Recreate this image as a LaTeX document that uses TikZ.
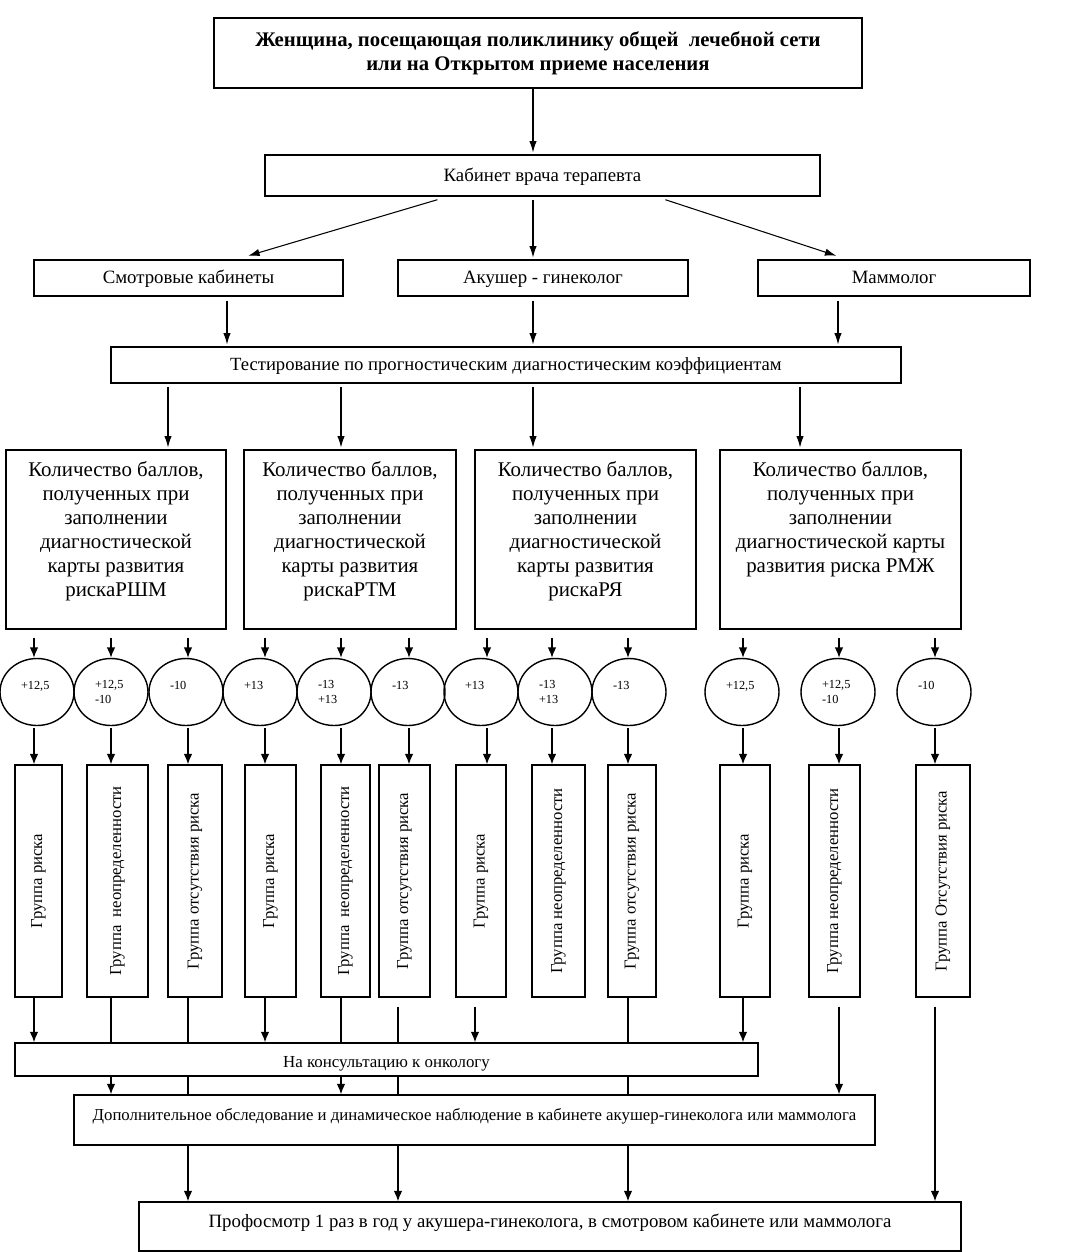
\documentclass[tikz,border=0pt]{standalone}
\usepackage{fontspec}
\setmainfont{Liberation Serif}
\usetikzlibrary{shapes.geometric,calc,arrows.meta}

\tikzset{
  box/.style={draw, line width=0.8pt, fill=white, inner sep=1pt, font=\fontsize{10.7}{13}\selectfont},
  line1/.style={text height=9pt, text depth=2.5pt},
  qbox/.style={box, minimum height=3.58cm, align=center, text depth=12pt, font=\fontsize{11.9}{13.6}\selectfont},
  grp/.style={draw, line width=0.8pt, fill=white, minimum height=4.64cm, inner sep=0pt, font=\fontsize{9.5}{11}\selectfont},
  ball/.style={ellipse, draw, line width=0.8pt, minimum width=1.48cm, minimum height=1.34cm, inner sep=0pt, text width=0.64cm, align=left, font=\fontsize{7}{8}\selectfont},
  arr/.style={-{Latex[length=6pt,width=5pt]}, line width=0.9pt},
  arrt/.style={-{Latex[length=6.5pt,width=4.2pt]}, line width=0.6pt, shorten >=1pt},
  link/.style={line width=0.9pt},
}

\begin{document}
\begin{tikzpicture}[x=0.02cm, y=-0.02cm]
\fill[white] (0,0) rectangle (1078,1252);
\useasboundingbox (0,0) rectangle (1078,1252);

% upper part
\node[box, minimum width=12.96cm, minimum height=1.4cm, align=center, font=\bfseries\fontsize{11.8}{13.6}\selectfont] (top) at (538,53) {Женщина, посещающая поликлинику общей\ \ лечебной сети\\ или на Открытом приеме населения};
\node[box, line1, minimum width=11.1cm, minimum height=0.82cm] (kab) at (542.5,175.5) {Кабинет врача терапевта};
\node[box, line1, minimum width=6.18cm, minimum height=0.72cm] (smotr) at (188.5,278) {Смотровые кабинеты};
\node[box, line1, minimum width=5.8cm, minimum height=0.72cm] (akush) at (543,278) {Акушер - гинеколог};
\node[box, line1, minimum width=5.44cm, minimum height=0.72cm] (mamm) at (894,278) {Маммолог};
\node[box, line1, minimum width=15.8cm, minimum height=0.72cm, font=\fontsize{10.6}{13}\selectfont] (test) at (506,365) {Тестирование по прогностическим диагностическим коэффициентам};

\coordinate (ax) at (533,0);
\coordinate (s1) at (227,0);
\coordinate (s3) at (838,0);
\coordinate (t1) at (168,0);
\coordinate (t2) at (341,0);
\coordinate (t4) at (800,0);

\draw[arrt] (ax |- top.south) -- (ax |- kab.north);
\draw[arrt] ($(kab.south west)+(173,3)$) -- ($(smotr.north)+(58,-3)$);
\draw[arrt] ($(ax |- kab.south)+(0,3)$) -- (ax |- akush.north);
\draw[arrt] ($(kab.south west)+(401,3)$) -- ($(mamm.north)+(-56,-3)$);
\draw[arrt] ($(s1 |- smotr.south)+(0,4)$) -- (s1 |- test.north);
\draw[arrt] ($(ax |- akush.south)+(0,4)$) -- (ax |- test.north);
\draw[arrt] ($(s3 |- mamm.south)+(0,4)$) -- (s3 |- test.north);

% score cards
\node[qbox, minimum width=4.4cm] (q1) at (116,539.5) {Количество баллов,\\ полученных при\\ заполнении\\ диагностической\\ карты развития\\ рискаРШМ};
\node[qbox, minimum width=4.24cm] (q2) at (350,539.5) {Количество баллов,\\ полученных при\\ заполнении\\ диагностической\\ карты развития\\ рискаРТМ};
\node[qbox, minimum width=4.42cm] (q3) at (585.5,539.5) {Количество баллов,\\ полученных при\\ заполнении\\ диагностической\\ карты развития\\ рискаРЯ};
\node[qbox, minimum width=4.82cm] (q4) at (840.5,539.5) {Количество баллов,\\ полученных при\\ заполнении\\ диагностической карты\\ развития риска РМЖ\\ \mbox{}};

\draw[arrt] ($(t1 |- test.south)+(0,3)$) -- (t1 |- q1.north);
\draw[arrt] ($(t2 |- test.south)+(0,3)$) -- (t2 |- q2.north);
\draw[arrt] ($(ax |- test.south)+(0,3)$) -- (ax |- q3.north);
\draw[arrt] ($(t4 |- test.south)+(0,3)$) -- (t4 |- q4.north);

% scores
\node[ball] (c1) at (37,692) {+12,5\\ \mbox{}};
\node[ball] (c2) at (111,692) {+12,5\\ -10};
\node[ball] (c3) at (186,692) {-10\\ \mbox{}};
\node[ball] (c4) at (260,692) {+13\\ \mbox{}};
\node[ball] (c5) at (334,692) {-13\\ +13};
\node[ball] (c6) at (408,692) {-13\\ \mbox{}};
\node[ball] (c7) at (481,692) {+13\\ \mbox{}};
\node[ball] (c8) at (555,692) {-13\\ +13};
\node[ball] (c9) at (629,692) {-13\\ \mbox{}};
\node[ball] (c10) at (742,692) {+12,5\\ \mbox{}};
\node[ball] (c11) at (838,692) {+12,5\\ -10};
\node[ball] (c12) at (934,692) {-10\\ \mbox{}};

% groups
\node[grp, minimum width=0.94cm] (g1) at (38.5,881) {\rotatebox{90}{Группа риска}};
\node[grp, minimum width=1.22cm] (g2) at (117.5,881) {\rotatebox{90}{Группа\ \ неопределенности}};
\node[grp, minimum width=1.08cm] (g3) at (195,881) {\rotatebox{90}{Группа отсутствия риска}};
\node[grp, minimum width=1.02cm] (g4) at (270.5,881) {\rotatebox{90}{Группа риска}};
\node[grp, minimum width=0.98cm] (g5) at (345.5,881) {\rotatebox{90}{Группа\ \ неопределенности}};
\node[grp, minimum width=1.02cm] (g6) at (404.5,881) {\rotatebox{90}{Группа отсутствия риска}};
\node[grp, minimum width=1.0cm] (g7) at (481,881) {\rotatebox{90}{Группа риска}};
\node[grp, minimum width=1.06cm] (g8) at (558.5,881) {\rotatebox{90}{Группа неопределенности}};
\node[grp, minimum width=0.96cm] (g9) at (632,881) {\rotatebox{90}{Группа отсутствия риска}};
\node[grp, minimum width=1.0cm] (g10) at (745,881) {\rotatebox{90}{Группа риска}};
\node[grp, minimum width=1.02cm] (g11) at (834.5,881) {\rotatebox{90}{Группа неопределенности}};
\node[grp, minimum width=1.08cm] (g12) at (943,881) {\rotatebox{90}{Группа Отсутствия риска}};

\coordinate (k1) at (34,0);
\coordinate (k2) at (111,0);
\coordinate (k3) at (188,0);
\coordinate (k4) at (265,0);
\coordinate (k5) at (341,0);
\coordinate (k6) at (409,0);
\coordinate (k7) at (487,0);
\coordinate (k8) at (552,0);
\coordinate (k9) at (628,0);
\coordinate (k10) at (743,0);
\coordinate (k11) at (839,0);
\coordinate (k12) at (935,0);
\coordinate (b6) at (398,0);
\coordinate (b7) at (475,0);

\draw[arr] ($(k1 |- q1.south)+(0,8)$) -- (k1 |- c1.north);
\draw[arr] ($(k2 |- q1.south)+(0,8)$) -- (k2 |- c2.north);
\draw[arr] ($(k3 |- q1.south)+(0,8)$) -- (k3 |- c3.north);
\draw[arr] ($(k4 |- q2.south)+(0,8)$) -- (k4 |- c4.north);
\draw[arr] ($(k5 |- q2.south)+(0,8)$) -- (k5 |- c5.north);
\draw[arr] ($(k6 |- q2.south)+(0,8)$) -- (k6 |- c6.north);
\draw[arr] ($(k7 |- q3.south)+(0,8)$) -- (k7 |- c7.north);
\draw[arr] ($(k8 |- q3.south)+(0,8)$) -- (k8 |- c8.north);
\draw[arr] ($(k9 |- q3.south)+(0,8)$) -- (k9 |- c9.north);
\draw[arr] ($(k10 |- q4.south)+(0,8)$) -- (k10 |- c10.north);
\draw[arr] ($(k11 |- q4.south)+(0,8)$) -- (k11 |- c11.north);
\draw[arr] ($(k12 |- q4.south)+(0,8)$) -- (k12 |- c12.north);

\draw[arr] ($(k1 |- c1.south)+(0,2)$) -- (k1 |- g1.north);
\draw[arr] ($(k2 |- c2.south)+(0,2)$) -- (k2 |- g2.north);
\draw[arr] ($(k3 |- c3.south)+(0,2)$) -- (k3 |- g3.north);
\draw[arr] ($(k4 |- c4.south)+(0,2)$) -- (k4 |- g4.north);
\draw[arr] ($(k5 |- c5.south)+(0,2)$) -- (k5 |- g5.north);
\draw[arr] ($(k6 |- c6.south)+(0,2)$) -- (k6 |- g6.north);
\draw[arr] ($(k7 |- c7.south)+(0,2)$) -- (k7 |- g7.north);
\draw[arr] ($(k8 |- c8.south)+(0,2)$) -- (k8 |- g8.north);
\draw[arr] ($(k9 |- c9.south)+(0,2)$) -- (k9 |- g9.north);
\draw[arr] ($(k10 |- c10.south)+(0,2)$) -- (k10 |- g10.north);
\draw[arr] ($(k11 |- c11.south)+(0,2)$) -- (k11 |- g11.north);
\draw[arr] ($(k12 |- c12.south)+(0,2)$) -- (k12 |- g12.north);

% lower part
\node[box, minimum width=14.86cm, minimum height=0.66cm, text height=11.5pt, text depth=2.5pt, font=\fontsize{9.6}{12}\selectfont] (onco) at (386.5,1059.5) {На консультацию к онкологу};
\node[box, minimum width=16.02cm, minimum height=1.0cm, text depth=6.5pt, font=\fontsize{9.55}{12}\selectfont] (dop) at (474.5,1120) {Дополнительное обследование и динамическое наблюдение в кабинете акушер-гинеколога или маммолога};
\node[box, minimum width=16.44cm, minimum height=0.98cm, text depth=6pt] (prof) at (550,1226.5) {Профосмотр 1 раз в год у акушера-гинеколога, в смотровом кабинете или маммолога};

\draw[arr] (k1 |- g1.south) -- (k1 |- onco.north);
\draw[link] (k2 |- g2.south) -- (k2 |- onco.north);
\draw[arr] (k2 |- onco.south) -- (k2 |- dop.north);
\draw[link] (k3 |- g3.south) -- (k3 |- onco.north);
\draw[link] (k3 |- onco.south) -- (k3 |- dop.north);
\draw[arr] (k3 |- dop.south) -- (k3 |- prof.north);
\draw[arr] (k4 |- g4.south) -- (k4 |- onco.north);
\draw[link] (k5 |- g5.south) -- (k5 |- onco.north);
\draw[arr] (k5 |- onco.south) -- (k5 |- dop.north);
\draw[link] ($(b6 |- g6.south)+(0,9)$) -- (b6 |- onco.north);
\draw[link] (b6 |- onco.south) -- (b6 |- dop.north);
\draw[arr] (b6 |- dop.south) -- (b6 |- prof.north);
\draw[arr] ($(b7 |- g7.south)+(0,9)$) -- (b7 |- onco.north);
\draw[link] (k9 |- g9.south) -- (k9 |- onco.north);
\draw[link] (k9 |- onco.south) -- (k9 |- dop.north);
\draw[arr] (k9 |- dop.south) -- (k9 |- prof.north);
\draw[arr] (k10 |- g10.south) -- (k10 |- onco.north);
\draw[arr] ($(k11 |- g11.south)+(0,9)$) -- (k11 |- dop.north);
\draw[arr] ($(k12 |- g12.south)+(0,9)$) -- (k12 |- prof.north);
\end{tikzpicture}
\end{document}
